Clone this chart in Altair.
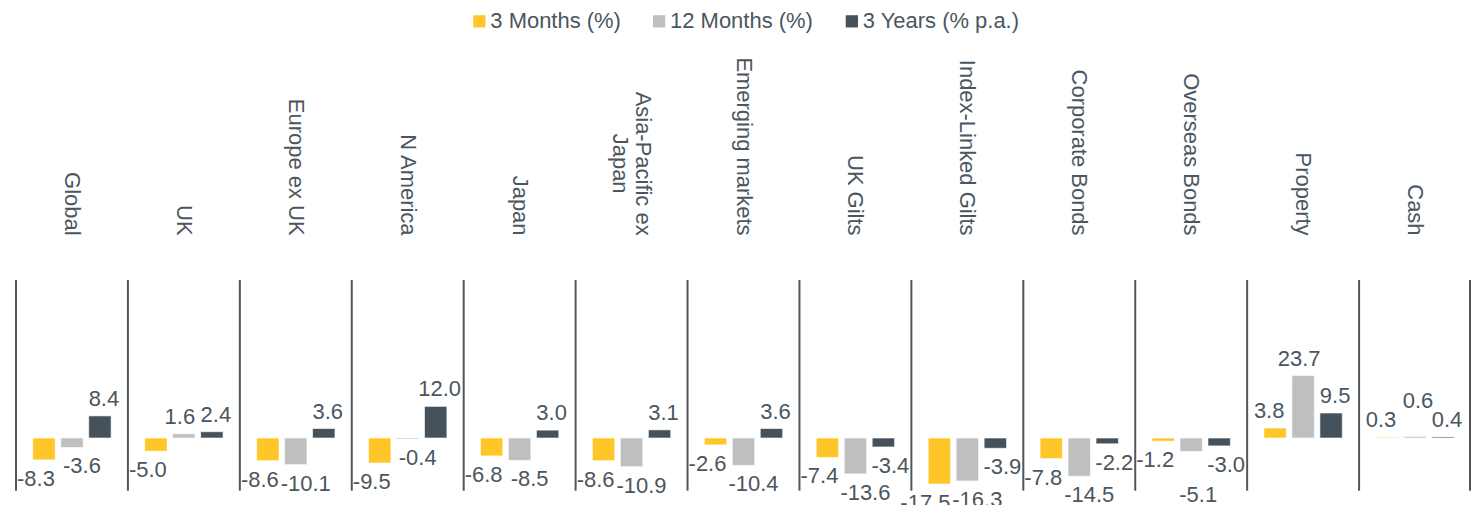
import altair as alt
import pandas as pd

categories = ["Global", "UK", "Europe ex UK", "N America", "Japan",
              "Asia-Pacific ex\nJapan", "Emerging markets", "UK Gilts",
              "Index-Linked Gilts", "Corporate Bonds", "Overseas Bonds",
              "Property", "Cash"]
series = ["3 Months (%)", "12 Months (%)", "3 Years (% p.a.)"]
three_months = [-8.3, -5.0, -8.6, -9.5, -6.8, -8.6, -2.6, -7.4, -17.5, -7.8, -1.2, 3.8, 0.3]
twelve_months = [-3.6, 1.6, -10.1, -0.4, -8.5, -10.9, -10.4, -13.6, -16.3, -14.5, -5.1, 23.7, 0.6]
three_years = [8.4, 2.4, 3.6, 12.0, 3.0, 3.1, 3.6, -3.4, -3.9, -2.2, -3.0, 9.5, 0.4]
colors = ["#FFC629", "#BFBFBF", "#45525B"]

TEXT = "#4A5660"
FONT = "Liberation Sans"
W, H = 1457, 211

rows = []
for i, (s, vals) in enumerate(zip(series, [three_months, twelve_months, three_years])):
    for c, v in zip(categories, vals):
        rows.append({"category": c, "series": s, "order": i, "value": v, "label": f"{v:.1f}"})
df = pd.DataFrame(rows)
cat_df = pd.DataFrame({"category": categories})

multi = "indexof(datum.value, '\\n') >= 0"
x_axis = alt.Axis(orient="top", labelAngle=90,
                  labelAlign={"condition": {"test": multi, "value": "center"}, "value": "right"},
                  labelPadding={"condition": {"test": multi, "value": 117}, "value": 45},
                  labelOffset={"condition": {"test": multi, "value": 11}, "value": 0},
                  labelBaseline="middle", ticks=False, domain=False, labelFontSize=22,
                  labelColor=TEXT, labelFont=FONT, labelLineHeight=23, labelLimit=400,
                  labelOverlap=False, labelExpr="split(datum.label, '\\n')", title=None)
x_scale = alt.Scale(domain=categories, paddingInner=0, paddingOuter=0)
x_enc = alt.X("category:N", sort=categories, scale=x_scale, axis=x_axis)
xo_enc = alt.XOffset("series:N", sort=series,
                     scale=alt.Scale(domain=series, paddingInner=0.2, paddingOuter=0.6))
y_enc = alt.Y("value:Q", scale=alt.Scale(domain=[-20, 60], nice=False), axis=None)

base = alt.Chart(df).encode(x=x_enc, xOffset=xo_enc, y=y_enc)

bars = base.mark_bar(stroke="white", strokeWidth=0.6).encode(
    color=alt.Color("series:N", sort=series,
                    scale=alt.Scale(domain=series, range=colors),
                    legend=alt.Legend(orient="none", legendX=453, legendY=-270,
                                      direction="horizontal", symbolType="square",
                                      symbolSize=150, symbolStrokeWidth=0,
                                      labelFontSize=22, labelColor=TEXT, labelFont=FONT,
                                      labelOffset=0, columnPadding=27, title=None))
)

# label layers: per series horizontal nudge (like the hand-placed labels of the original)
pos_dx = [-6, -4, 4]
neg_dx = [-8, 10, 7]
long_lab = "length(datum.label) >= 5"
pushed_down = ("datum.order == 1 && datum.value < 0 && datum.dark_val < 0 && "
               "abs(datum.value - datum.dark_val) < 8")
pushed_up = ("datum.order == 1 && datum.value >= 0 && datum.first_val >= 0 && "
             "abs(datum.value - datum.first_val) < 8")

lab_base = base.transform_calculate(
    dark_part="datum.order == 2 ? datum.value : null",
    first_part="datum.order == 0 ? datum.value : null",
).transform_joinaggregate(
    dark_val="max(dark_part)", first_val="max(first_part)", groupby=["category"]
)


def txt(filt, baseline, dy, dx):
    return lab_base.transform_filter(filt).mark_text(
        baseline=baseline, dy=dy, dx=dx, fontSize=22, font=FONT, color=TEXT
    ).encode(text="label:N")


label_layers = []
for i in range(3):
    label_layers.append(txt(f"datum.order == {i} && datum.value >= 0 && !({pushed_up})",
                            "alphabetic", -10, pos_dx[i]))
    if i == 0:
        label_layers.append(txt(f"datum.order == 0 && datum.value < 0 && !({long_lab})",
                                "top", 9, neg_dx[0]))
        label_layers.append(txt(f"datum.order == 0 && datum.value < 0 && {long_lab}",
                                "top", 9, neg_dx[0] - 6))
    else:
        label_layers.append(txt(f"datum.order == {i} && datum.value < 0 && !({pushed_down})",
                                "top", 9, neg_dx[i]))
label_layers.append(txt(pushed_down, "top", 34, 7))
label_layers.append(txt(pushed_up, "alphabetic", -28, 3))

rules = alt.Chart(cat_df).mark_rule(color="#555555", strokeWidth=2).encode(
    x=alt.X("category:N", sort=categories, scale=x_scale, axis=x_axis, bandPosition=0),
    y=alt.value(0), y2=alt.value(H)
)
last_rule = alt.Chart(pd.DataFrame({"e": [0]})).mark_rule(color="#555555", strokeWidth=2).encode(
    x=alt.value(W - 1), y=alt.value(0), y2=alt.value(H)
)

chart = alt.layer(rules, last_rule, bars, *label_layers).properties(
    width=W, height=H,
    autosize=alt.AutoSizeParams(type="none"),
    padding={"left": 8, "top": 272, "right": 0, "bottom": 30},
    background="white",
).configure_view(stroke=None)

chart.save("out.html", embed_options={"renderer": "svg", "actions": False})
